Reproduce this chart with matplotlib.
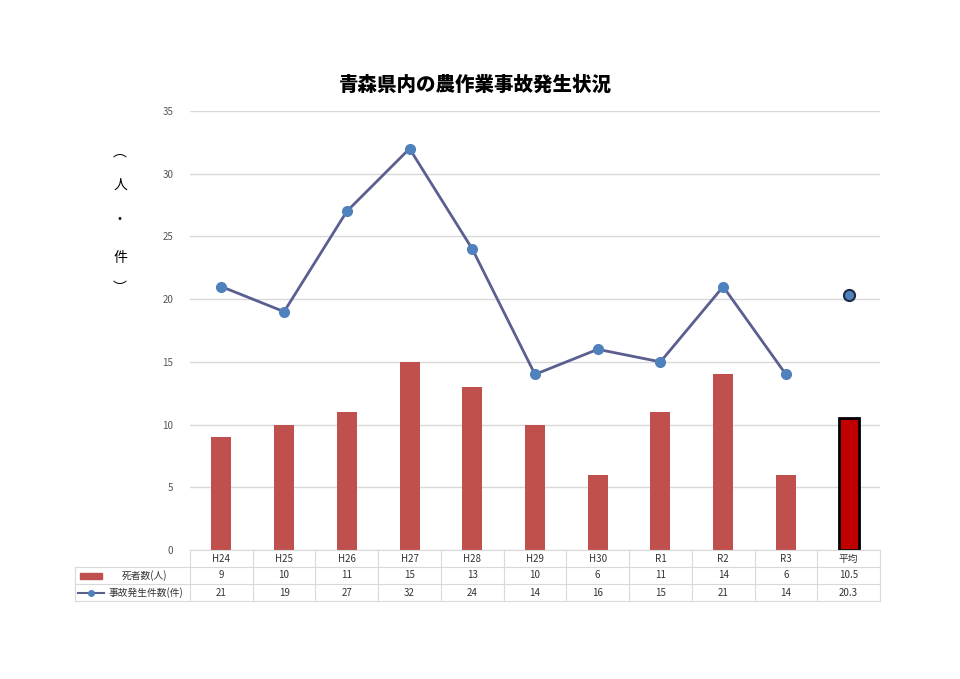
import matplotlib
matplotlib.use('Agg')
import matplotlib.pyplot as plt
import numpy as np

plt.rcParams['font.family'] = ['Noto Sans CJK JP', 'DejaVu Sans']

# データ
years = ['H24', 'H25', 'H26', 'H27', 'H28', 'H29', 'H30', 'R1', 'R2', 'R3', '平均']
deaths = [9, 10, 11, 15, 13, 10, 6, 11, 14, 6, 10.5]
accidents = [21, 19, 27, 32, 24, 14, 16, 15, 21, 14, 20.3]
death_labels = ['9', '10', '11', '15', '13', '10', '6', '11', '14', '6', '10.5']
accident_labels = ['21', '19', '27', '32', '24', '14', '16', '15', '21', '14', '20.3']

W, H = 960, 679
fig = plt.figure(figsize=(9.6, 6.79), dpi=100)
ax_l, ax_r, ax_t, ax_b = 190, 880, 111, 550
ax = fig.add_axes([ax_l / W, 1 - ax_b / H, (ax_r - ax_l) / W, (ax_b - ax_t) / H])

x = np.arange(len(years))
n = len(years) - 1

# 棒グラフ(死者数)
ax.bar(x[:n], deaths[:n], width=0.32, color='#c0504d', zorder=3)
ax.bar(x[n], deaths[n], width=0.32, color='#c00000', edgecolor='black', linewidth=2, zorder=3)

# 折れ線(事故発生件数)
ax.plot(x[:n], accidents[:n], color='#5b5f8f', linewidth=2, marker='o', markersize=7,
        markerfacecolor='#4f81bd', markeredgecolor='#4f81bd', zorder=4)
ax.plot(x[n], accidents[n], marker='o', markersize=8, markerfacecolor='#4f81bd',
        markeredgecolor='#1f2a44', markeredgewidth=1.5, linestyle='none', zorder=4)

ax.set_xlim(-0.5, n + 0.5)
ax.set_ylim(0, 35)
ax.set_yticks(range(0, 36, 5))
ax.set_xticks([])
ax.tick_params(axis='y', length=0, labelsize=7, labelcolor='#555555', pad=12)
ax.grid(axis='y', color='#d9d9d9', linewidth=1, zorder=0)
for s in ax.spines.values():
    s.set_visible(False)

# タイトル
fig.text(475 / W, 1 - 85 / H, '青森県内の農作業事故発生状況', ha='center', va='center',
         fontsize=14, fontweight='heavy')

# 縦書きの単位
for ch, yy in zip(['︵', '人', '・', '件', '︶'], [152, 185, 220, 258, 288]):
    fig.text(120 / W, 1 - yy / H, ch, ha='center', va='center', fontsize=10)

# データテーブル
row_h = 17
col_w = (ax_r - ax_l) / len(years)
line_kw = dict(color='#d9d9d9', linewidth=0.8)
tab_top = ax_b
tab_bot = ax_b + 3 * row_h
lx = 75

def fy(py):
    return 1 - py / H

def fx(px):
    return px / W

# 罫線
fig.add_artist(plt.Line2D([fx(ax_l), fx(ax_r)], [fy(tab_top), fy(tab_top)], **line_kw))
for r in (1, 2, 3):
    yy = tab_top + r * row_h
    fig.add_artist(plt.Line2D([fx(lx), fx(ax_r)], [fy(yy), fy(yy)], **line_kw))
for c in range(len(years) + 1):
    xx = ax_l + c * col_w
    fig.add_artist(plt.Line2D([fx(xx), fx(xx)], [fy(tab_top), fy(tab_bot)], **line_kw))
fig.add_artist(plt.Line2D([fx(lx), fx(lx)], [fy(tab_top + row_h), fy(tab_bot)], **line_kw))

txt_kw = dict(ha='center', va='center', fontsize=7, color='#333333')
for i, (yr, d, a) in enumerate(zip(years, death_labels, accident_labels)):
    cx = fx(ax_l + (i + 0.5) * col_w)
    fig.text(cx, fy(tab_top + 0.5 * row_h), yr, **txt_kw)
    fig.text(cx, fy(tab_top + 1.5 * row_h), d, **txt_kw)
    fig.text(cx, fy(tab_top + 2.5 * row_h), a, **txt_kw)

# 凡例キー
fig.add_artist(plt.Rectangle((fx(80), fy(tab_top + 1.5 * row_h + 3)), 22 / W, 6 / H,
                             color='#c0504d'))
fig.text(fx(145), fy(tab_top + 1.5 * row_h), '死者数(人)', **txt_kw)
ly = fy(tab_top + 2.5 * row_h)
fig.add_artist(plt.Line2D([fx(78), fx(104)], [ly, ly], color='#5b5f8f', linewidth=1.5))
fig.add_artist(plt.Line2D([fx(91)], [ly], marker='o', markersize=4,
                          color='#4f81bd', linestyle='none'))
fig.text(fx(146), ly, '事故発生件数(件)', **txt_kw)

fig.savefig('out.png', dpi=100, facecolor='white')
